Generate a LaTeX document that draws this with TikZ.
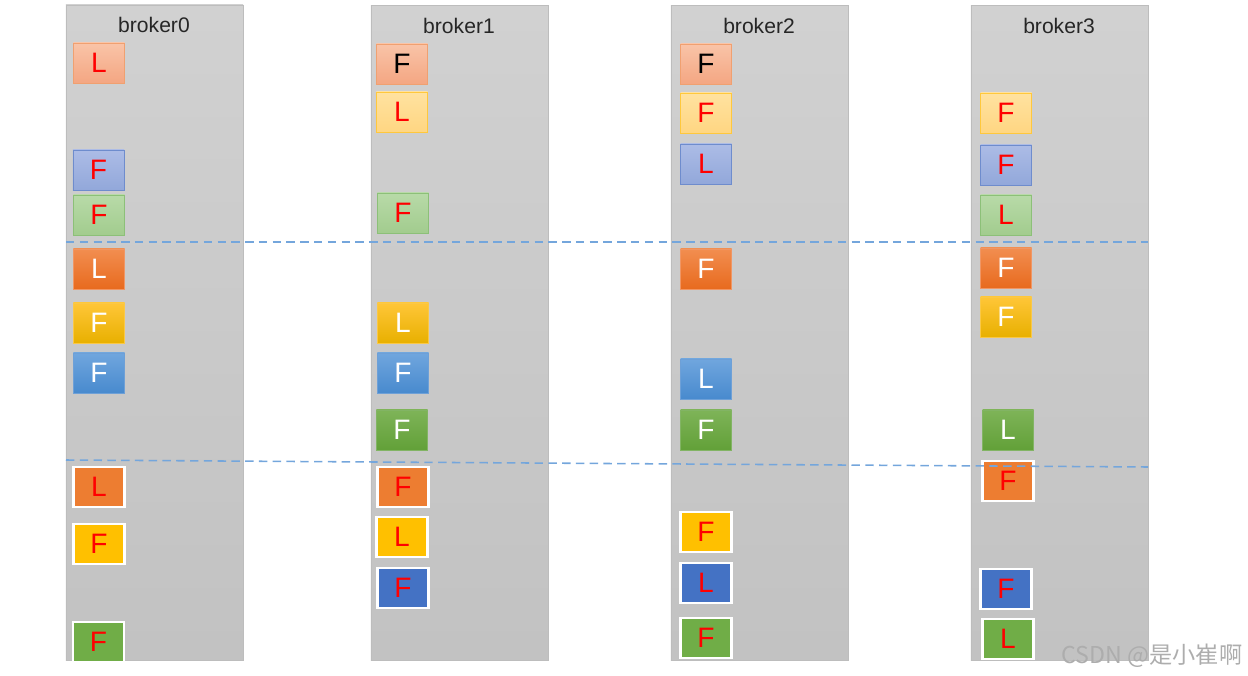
\documentclass[tikz,border=0pt]{standalone}
\usepackage{fontspec}
\setmainfont{Liberation Sans}
\newfontfamily\cjk{Noto Sans CJK SC}
\usepackage{tikz}
\usetikzlibrary{positioning}

\definecolor{colgray}{HTML}{BDBDBD}
\definecolor{sepblue}{HTML}{74A6DC}
\definecolor{korange}{HTML}{ED7D31}
\definecolor{kgold}{HTML}{FFC000}
\definecolor{kblue}{HTML}{4472C4}
\definecolor{kgreen}{HTML}{70AD47}

\begin{document}
\begin{tikzpicture}[
    x=0.025cm, y=-0.025cm,
    col/.style={draw=colgray, top color=black!18, bottom color=black!24, minimum width=4.425cm, minimum height=16.375cm, inner sep=0pt},
    title/.style={font=\fontsize{15}{18}\selectfont, text=black!85},
    part/.style={minimum width=1.275cm, minimum height=1cm, inner sep=0pt, text=red, font=\fontsize{20}{24}\selectfont, line width=0.6pt},
    sal/.style={part, draw={rgb,255:red,240;green,160;blue,112}, top color={rgb,255:red,249;green,196;blue,168}, bottom color={rgb,255:red,244;green,166;blue,130}},
    lgold/.style={part, draw={rgb,255:red,255;green,200;blue,60}, top color={rgb,255:red,255;green,226;blue,160}, bottom color={rgb,255:red,255;green,214;blue,130}},
    lav/.style={part, draw={rgb,255:red,110;green,140;blue,205}, top color={rgb,255:red,172;green,188;blue,230}, bottom color={rgb,255:red,146;green,168;blue,218}},
    lgrn/.style={part, draw={rgb,255:red,140;green,192;blue,120}, top color={rgb,255:red,184;green,218;blue,168}, bottom color={rgb,255:red,162;green,204;blue,142}},
    org/.style={part, text=white, draw={rgb,255:red,240;green,150;blue,100}, top color={rgb,255:red,242;green,142;blue,80}, bottom color={rgb,255:red,232;green,106;blue,30}},
    gld/.style={part, text=white, draw={rgb,255:red,250;green,200;blue,70}, top color={rgb,255:red,255;green,198;blue,56}, bottom color={rgb,255:red,232;green,176;blue,0}},
    blu/.style={part, text=white, draw={rgb,255:red,110;green,160;blue,215}, top color={rgb,255:red,112;green,166;blue,222}, bottom color={rgb,255:red,72;green,138;blue,206}},
    grn/.style={part, text=white, draw={rgb,255:red,130;green,180;blue,100}, top color={rgb,255:red,126;green,180;blue,88}, bottom color={rgb,255:red,98;green,160;blue,56}},
    forg/.style={part, draw=white, line width=1.6pt, fill=korange},
    fgld/.style={part, draw=white, line width=1.6pt, fill=kgold},
    fblu/.style={part, draw=white, line width=1.6pt, fill=kblue},
    fgrn/.style={part, draw=white, line width=1.6pt, fill=kgreen},
    sep/.style={draw=sepblue, line width=1.1pt, dash pattern=on 6pt off 3.8pt}]
  \useasboundingbox (0,0) rectangle (1248,676);

  % broker columns
  \node[col] (b0) at (154.5,332.5) {};
  \node[col] (b1) at (459.5,333) {};
  \node[col] (b2) at (759.5,333) {};
  \node[col] (b3) at (1059.5,333) {};
  \node[title] (t0) at (154,25) {broker0};
  \node[title] (t1) at (459,26) {broker1};
  \node[title] (t2) at (759,26) {broker2};
  \node[title] (t3) at (1059,26) {broker3};

  % broker0
  \node[sal] (p0a) at (99,63) {L};
  \node[lav] (p0b) at (98.5,170) {F};
  \node[lgrn] (p0c) at (99,215) {F};
  \node[org] (p0d) at (99,269) {L};
  \node[gld] (p0e) at (99,323) {F};
  \node[blu] (p0f) at (99,373) {F};
  \node[forg] (p0g) at (99,487) {L};
  \node[fgld] (p0h) at (99,544) {F};
  \node[fgrn] (p0i) at (98.5,642) {F};

  % broker1
  \node[sal, text=black] (p1a) at (402,64) {F};
  \node[lgold] (p1b) at (402,112) {L};
  \node[lgrn] (p1c) at (403,213) {F};
  \node[gld] (p1d) at (403,323) {L};
  \node[blu] (p1e) at (403,373) {F};
  \node[grn] (p1f) at (402,430) {F};
  \node[forg] (p1g) at (403,487) {F};
  \node[fgld] (p1h) at (402,537) {L};
  \node[fblu] (p1i) at (403,588) {F};

  % broker2
  \node[sal, text=black] (p2a) at (706,64) {F};
  \node[lgold] (p2b) at (706,113) {F};
  \node[lav] (p2c) at (706,164) {L};
  \node[org] (p2d) at (706,269) {F};
  \node[blu] (p2e) at (706,379) {L};
  \node[grn] (p2f) at (706,430) {F};
  \node[fgld] (p2g) at (706,532) {F};
  \node[fblu] (p2h) at (706,583) {L};
  \node[fgrn] (p2i) at (706,638) {F};

  % broker3
  \node[lgold] (p3a) at (1006,113) {F};
  \node[lav] (p3b) at (1006,165) {F};
  \node[lgrn] (p3c) at (1006,215) {L};
  \node[org] (p3d) at (1006,268) {F};
  \node[gld] (p3e) at (1006,317) {F};
  \node[grn] (p3f) at (1008,430) {L};
  \node[forg] (p3g) at (1008,481) {F};
  \node[fblu] (p3h) at (1006,589) {F};
  \node[fgrn] (p3i) at (1008,639) {L};

  % group separators
  \coordinate (s1l) at (66,242);
  \coordinate (s1r) at (1148,242);
  \coordinate (s2l) at (66,460);
  \coordinate (s2r) at (1148,467);
  \draw[sep] (s1l) -- (s1r);
  \draw[sep] (s2l) -- (s2r);

  \node[text=black!32, font=\cjk\fontsize{16.5}{18}\selectfont] (wm) at (1152,656) {CSDN @是小崔啊};
\end{tikzpicture}
\end{document}
